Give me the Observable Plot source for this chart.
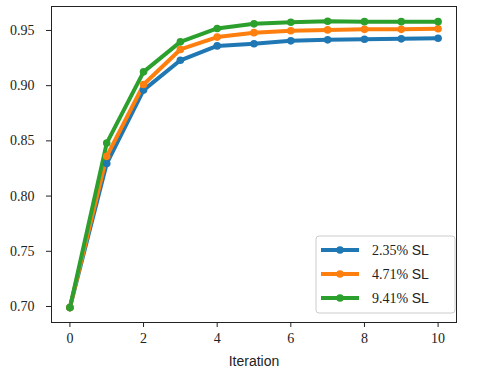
<!DOCTYPE html>
<html>
<head>
<meta charset="utf-8">
<script src="https://cdn.jsdelivr.net/npm/d3@7"></script>
<script src="https://cdn.jsdelivr.net/npm/@observablehq/plot@0.6"></script>
<style>
  html, body { margin: 0; padding: 0; background: white; }
</style>
</head>
<body>
<div id="chart"></div>
<script>
const iterations = [0, 1, 2, 3, 4, 5, 6, 7, 8, 9, 10];
const seriesNames = ["2.35% SL", "4.71% SL", "9.41% SL"];
const sl235 = [0.699, 0.8295, 0.896, 0.923, 0.936, 0.938, 0.9406, 0.9415, 0.942, 0.9424, 0.943];
const sl471 = [0.699, 0.836, 0.901, 0.9328, 0.944, 0.948, 0.9497, 0.9505, 0.951, 0.951, 0.9515];
const sl941 = [0.699, 0.848, 0.9125, 0.9397, 0.9518, 0.956, 0.9575, 0.9584, 0.958, 0.958, 0.958];
const xTicks = [0, 2, 4, 6, 8, 10];
const yTicks = [0.70, 0.75, 0.80, 0.85, 0.90, 0.95];
const colors = ["#1f77b4", "#ff7f0e", "#2ca02c"];

const allSeries = [sl235, sl471, sl941];
const data = [];
allSeries.forEach((vals, si) => {
  vals.forEach((v, i) => data.push({ series: seriesNames[si], x: iterations[i], y: v }));
});

const W = 479, H = 368;
const mL = 51, mR = 23, mT = 6, mB = 46;
const serif = "'Liberation Serif', serif";
const sans = "'Liberation Sans', sans-serif";

const chart = Plot.plot({
  width: W,
  height: H,
  marginLeft: mL,
  marginRight: mR,
  marginTop: mT,
  marginBottom: mB,
  style: { fontFamily: serif, fontSize: "14px", background: "white", color: "#222" },
  x: { domain: [-0.5, 10.5] },
  y: { domain: [0.6855, 0.9717] },
  color: { domain: seriesNames, range: colors },
  marks: [
    Plot.axisX({ ticks: xTicks, tickSize: 5, tickPadding: 6, label: null, tickFormat: d => String(d), stroke: "#222", fontFamily: serif, fontSize: 14 }),
    Plot.axisY({ ticks: yTicks, tickSize: 5, tickPadding: 12, label: null, tickFormat: d => d.toFixed(2), stroke: "#222", fontFamily: serif, fontSize: 14, fontVariant: "normal" }),
    Plot.line(data, { x: "x", y: "y", z: "series", stroke: "series", strokeWidth: 4, strokeLinejoin: "round" }),
    Plot.dot(data, { x: "x", y: "y", fill: "series", r: 3.8 }),
    Plot.frame({ stroke: "#222", strokeWidth: 1 }),
    Plot.text(["Iteration"], { frameAnchor: "bottom", dy: 43, fontFamily: sans, fontSize: 14 })
  ]
});

document.getElementById("chart").appendChild(chart);

// force serif digits on tick labels
d3.select(chart).selectAll('g[aria-label="y-axis tick label"] text, g[aria-label="x-axis tick label"] text')
  .style("font-family", serif).style("font-variant", "normal");

// Legend (drawn into the Plot SVG)
const svg = d3.select(chart);
const lg = svg.append("g").attr("transform", "translate(316,236)");
lg.append("rect")
  .attr("width", 139).attr("height", 77)
  .attr("rx", 3).attr("ry", 3)
  .attr("fill", "white").attr("fill-opacity", 0.85)
  .attr("stroke", "#cccccc").attr("stroke-width", 1);
seriesNames.forEach((name, i) => {
  const cy = 14 + i * 24;
  const row = lg.append("g").attr("transform", `translate(0,${cy})`);
  row.append("line").attr("x1", 5).attr("x2", 43).attr("y1", 0).attr("y2", 0)
    .attr("stroke", colors[i]).attr("stroke-width", 4);
  row.append("circle").attr("cx", 24).attr("cy", 0).attr("r", 3.8).attr("fill", colors[i]);
  const parts = name.split(" ");
  const t = row.append("text").attr("x", 56).attr("y", 5)
    .attr("text-anchor", "start").attr("font-size", 14).attr("fill", "#222");
  t.append("tspan").style("font-family", serif).text(parts[0] + " ");
  t.append("tspan").style("font-family", sans).text(parts[1]);
});
</script>
</body>
</html>
